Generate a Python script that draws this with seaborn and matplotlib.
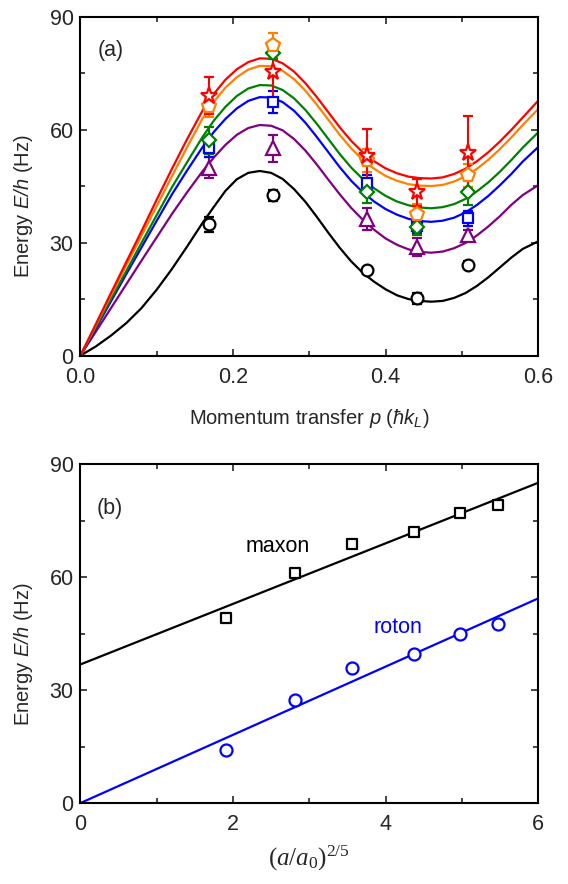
import numpy as np
import pandas as pd
import seaborn as sns
import matplotlib
matplotlib.use("Agg")
from matplotlib import pyplot as plt
from matplotlib.ticker import MultipleLocator, FormatStrFormatter

# ---- panel (a): theory curves ----
p_grid = [0.0, 0.02, 0.04, 0.06, 0.08, 0.10, 0.12, 0.14, 0.16, 0.175, 0.19,
          0.205, 0.22, 0.235, 0.25, 0.265, 0.28, 0.295, 0.31, 0.325, 0.34,
          0.355, 0.37, 0.385, 0.40, 0.415, 0.43, 0.445, 0.46, 0.475, 0.49,
          0.505, 0.52, 0.535, 0.55, 0.565, 0.58, 0.60]
curve_black = [0, 2.4, 5.3, 8.6, 12.6, 17.5, 23.0, 29.0, 35.2, 39.5, 43.7,
               46.8, 48.5, 49.0, 48.5, 46.9, 44.2, 40.8, 36.8, 32.6, 28.6,
               25.0, 22.0, 19.6, 17.6, 16.0, 15.0, 14.5, 14.3, 14.5, 15.3,
               16.6, 18.5, 20.8, 23.4, 26.0, 28.3, 30.3]
curve_purple = [0, 6.3, 12.6, 18.9, 25.2, 31.4, 37.6, 43.4, 48.9, 52.6, 55.9,
                58.6, 60.4, 61.2, 61.0, 59.8, 57.5, 54.4, 50.7, 46.7, 42.8,
                39.2, 36.1, 33.4, 31.1, 29.4, 28.2, 27.5, 27.3, 27.6, 28.5,
                29.9, 31.9, 34.3, 37.0, 40.0, 42.6, 45.2]
curve_blue = [0, 7.2, 14.4, 21.6, 28.7, 35.8, 42.8, 49.2, 55.3, 59.4, 62.8,
              65.6, 67.6, 68.6, 68.5, 67.3, 65.0, 61.8, 58.0, 54.0, 50.0,
              46.4, 43.4, 40.9, 38.9, 37.4, 36.3, 35.7, 35.5, 35.8, 36.6,
              38.0, 40.0, 42.4, 45.2, 48.2, 51.5, 55.3]
curve_green = [0, 7.5, 15.0, 22.4, 29.9, 37.3, 44.7, 51.4, 58.0, 62.4, 66.0,
               68.9, 70.9, 71.8, 71.7, 70.5, 68.3, 65.2, 61.5, 57.5, 53.5,
               49.9, 46.9, 44.4, 42.4, 40.9, 39.9, 39.3, 39.1, 39.4, 40.2,
               41.6, 43.6, 46.0, 48.8, 51.9, 55.2, 59.2]
curve_orange = [0, 8.0, 16.0, 23.9, 31.8, 39.7, 47.6, 55.4, 62.9, 67.4, 71.1,
                73.9, 75.9, 76.9, 76.8, 75.6, 73.4, 70.3, 66.6, 62.6, 58.6,
                55.0, 52.0, 49.6, 47.7, 46.4, 45.5, 45.1, 45.0, 45.3, 46.2,
                47.6, 49.6, 52.0, 54.8, 57.9, 61.2, 65.4]
curve_red = [0, 8.3, 16.6, 24.8, 33.0, 41.4, 49.6, 57.5, 65.0, 69.5, 73.2,
             76.0, 77.9, 78.9, 78.8, 77.6, 75.4, 72.3, 68.6, 64.6, 60.6,
             57.0, 54.0, 51.6, 49.7, 48.4, 47.5, 47.1, 47.0, 47.3, 48.2,
             49.6, 51.6, 54.0, 56.8, 59.9, 63.2, 67.6]

# ---- panel (a): measured points ----
p_meas = [0.169, 0.253, 0.376, 0.441, 0.508]
E_black = [34.8, 42.5, 22.6, 15.2, 24.0]
err_black = [2.0, 1.5, 1.0, 1.5, 1.0]
E_purple = [49.9, 55.0, 36.2, 28.8, 31.9]
err_purple = [2.7, 3.5, 3.0, 2.5, 1.5]
E_blue = [55.2, 67.3, 45.9, 34.5, 36.4]
err_blue = [2.5, 3.0, 2.0, 2.0, 2.0]
E_green = [57.1, 80.2, 43.5, 34.0, 43.5]
err_green = [3.5, 1.5, 3.0, 2.0, 3.5]
E_orange = [66.2, 82.4, 51.8, 37.7, 47.8]
err_orange = [2.8, 3.2, 3.0, 2.5, 3.0]
E_red = [69.0, 75.3, 53.1, 43.3, 53.9]
err_red = [5.0, 7.5, 7.0, 3.5, 9.7]

# ---- panel (b) ----
scat_x = [1.907, 2.81, 3.56, 4.375, 4.98, 5.47]
maxon_E = [49.0, 61.1, 68.8, 71.9, 76.9, 79.0]
roton_E = [14.1, 27.3, 35.8, 39.5, 45.0, 47.4]
fit_x = [0.0, 6.0]
maxon_fit = [36.8, 85.0]
roton_fit = [0.0, 54.3]

colors = {"black": "#000000", "purple": "#800080", "blue": "#0000ff",
          "green": "#008000", "orange": "#ff8000", "red": "#ff0000"}

sns.set_theme(style="ticks")
plt.rcParams["font.family"] = ["Liberation Sans", "DejaVu Sans"]
plt.rcParams["mathtext.fontset"] = "custom"
plt.rcParams["mathtext.rm"] = "Liberation Serif"
plt.rcParams["mathtext.it"] = "Liberation Serif:italic"
plt.rcParams["mathtext.sf"] = "Liberation Sans:italic"

fig = plt.figure(figsize=(5.68, 8.84), dpi=100)
ax1 = fig.add_axes([0.1417, 0.5978, 0.8055, 0.3835])
ax2 = fig.add_axes([0.1417, 0.0916, 0.8055, 0.3835])

names = ["black", "purple", "blue", "green", "orange", "red"]
curves = pd.DataFrame({
    "p": p_grid * 6,
    "E": curve_black + curve_purple + curve_blue + curve_green + curve_orange + curve_red,
    "series": sum([[k] * len(p_grid) for k in names], []),
})
sns.lineplot(data=curves, x="p", y="E", hue="series", palette=colors,
             estimator=None, sort=False, linewidth=1.6, legend=False, ax=ax1)

points = [
    ("black", "o", 8.5, E_black, err_black),
    ("purple", "^", 9.5, E_purple, err_purple),
    ("blue", "s", 7.5, E_blue, err_blue),
    ("green", "D", 7.5, E_green, err_green),
    ("orange", "p", 10.5, E_orange, err_orange),
    ("red", "*", 12.5, E_red, err_red),
]
for name, mk, ms, yv, ev in points:
    c = colors[name]
    ax1.errorbar(p_meas, yv, yerr=ev, fmt=mk, ms=ms, mfc="white", mec=c,
                 mew=1.6, ecolor=c, elinewidth=1.5, capsize=3.5, capthick=1.5,
                 zorder=3)

ax1.set_xlim(0, 0.6)
ax1.set_ylim(0, 90)
ax1.xaxis.set_major_locator(MultipleLocator(0.2))
ax1.xaxis.set_minor_locator(MultipleLocator(0.1))
ax1.xaxis.set_major_formatter(FormatStrFormatter("%.1f"))
ax1.set_xlabel(r"Momentum transfer $\mathsf{p}$ ($\mathsf{\hbar k_L}$)",
               fontsize=14.5, labelpad=14)
ax1.text(0.065, 0.90, "(a)", transform=ax1.transAxes, fontsize=15.5,
         ha="center", va="center")

# panel (b)
fits = pd.DataFrame({"x": fit_x * 2, "E": maxon_fit + roton_fit,
                     "series": ["maxon"] * 2 + ["roton"] * 2})
sns.lineplot(data=fits, x="x", y="E", hue="series",
             palette={"maxon": "#000000", "roton": "#0000ff"},
             estimator=None, linewidth=1.6, legend=False, ax=ax2)
sns.scatterplot(x=scat_x, y=maxon_E, marker="s", s=60, facecolors="white",
                edgecolor="#000000", linewidth=1.6, zorder=3, ax=ax2)
sns.scatterplot(x=scat_x, y=roton_E, marker="o", s=75, facecolors="white",
                edgecolor="#0000ff", linewidth=1.6, zorder=3, ax=ax2)
ax2.text(2.59, 68.0, "maxon", fontsize=15.5, color="black", ha="center", va="center")
ax2.text(4.16, 46.5, "roton", fontsize=15.5, color="#0000ff", ha="center", va="center")
ax2.text(0.065, 0.87, "(b)", transform=ax2.transAxes, fontsize=15.5,
         ha="center", va="center")
ax2.set_xlim(0, 6)
ax2.set_ylim(0, 90)
ax2.xaxis.set_major_locator(MultipleLocator(2))
ax2.xaxis.set_minor_locator(MultipleLocator(1))
ax2.set_xlabel(r"$(a/a_0)^{2/5}$", fontsize=18, labelpad=6)

for ax in (ax1, ax2):
    ax.yaxis.set_major_locator(MultipleLocator(30))
    ax.yaxis.set_minor_locator(MultipleLocator(15))
    ax.set_ylabel(r"Energy $\mathsf{E/h}$ (Hz)", fontsize=14.5)
    ax.yaxis.set_label_coords(-0.099, 0.44)
    ax.tick_params(which="both", direction="in", top=True, right=True,
                   width=1.2, labelsize=15.5)
    ax.tick_params(which="major", length=5)
    ax.tick_params(which="minor", length=3.5)
    ax.tick_params(axis="y", pad=5)
    ax.tick_params(axis="x", pad=8)
    for sp in ax.spines.values():
        sp.set_linewidth(1.5)
        sp.set_color("black")
    ax.grid(False)

fig.savefig("out.png", dpi=100)
